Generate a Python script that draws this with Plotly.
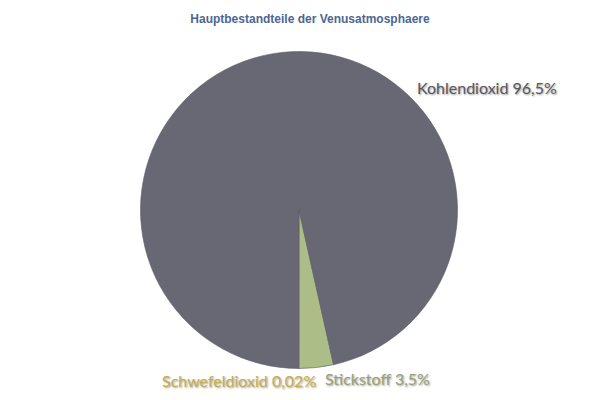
import plotly.graph_objects as go

title = "Hauptbestandteile der Venusatmosphaere"
labels = ["Schwefeldioxid", "Stickstoff", "Kohlendioxid"]
values = [0.02, 3.5, 96.5]
value_text = ["0,02%", "3,5%", "96,5%"]
slice_colors = ["#c9ad2e", "#adbd88", "#686874"]
label_colors = ["#c6ae4a", "#98a276", "#57575f"]

W, H = 600, 400
OFF = 8  # page body margin in the viewer
cx, cy, r = 299 - OFF, 210 - OFF, 158.5

fig = go.Figure(go.Pie(
    labels=labels,
    values=values,
    sort=False,
    direction="counterclockwise",
    rotation=180,
    marker=dict(colors=slice_colors, line=dict(color="#5c5c66", width=0.6)),
    textinfo="none",
    hoverinfo="label+percent",
    domain=dict(x=[(cx - r) / W, (cx + r) / W], y=[1 - (cy + r) / H, 1 - (cy - r) / H]),
    showlegend=False,
))

label_pos = [(239, 380), (377, 378), (487, 88)]
shadow = "1px 1px 2px rgba(0,0,0,0.4)"
for name, vt, col, (px, py) in zip(labels, value_text, label_colors, label_pos):
    fig.add_annotation(
        text=f"{name} {vt}", x=(px - OFF) / W, y=1 - (py - OFF) / H,
        xref="paper", yref="paper", showarrow=False,
        xanchor="center", yanchor="middle",
        font=dict(family="Lato", size=16, color=col, shadow=shadow),
    )

fig.update_layout(
    width=W, height=H,
    margin=dict(l=0, r=0, t=0, b=0),
    paper_bgcolor="white", plot_bgcolor="white",
    title=dict(text=f"<b>{title}</b>", x=(310 - OFF) / W, xanchor="center",
               y=1 - (19 - OFF) / H, yanchor="middle",
               font=dict(family="Liberation Sans, Arial", size=12, color="#4d6593")),
)

fig.write_html("out.html")
